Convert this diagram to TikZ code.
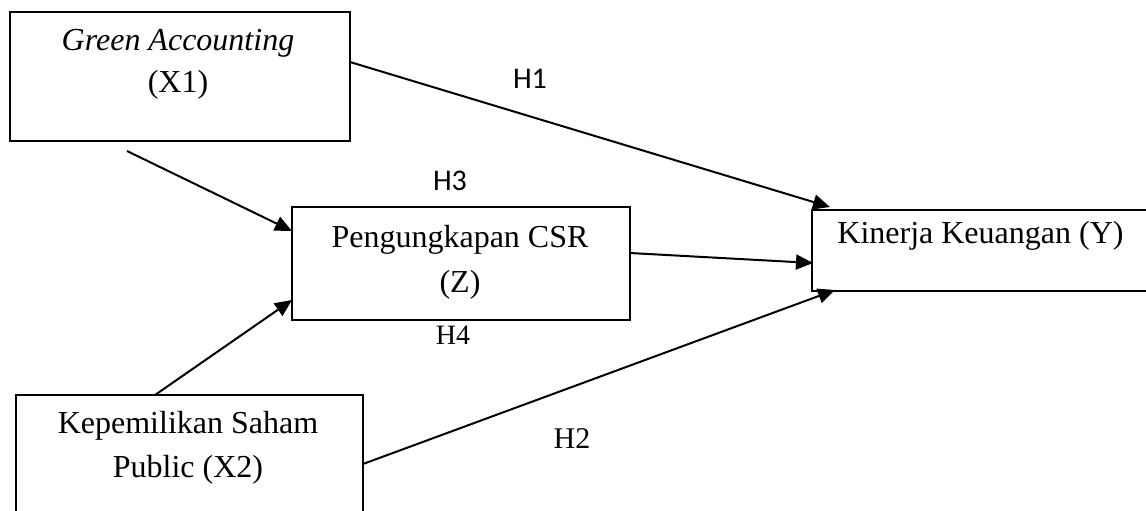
\documentclass[tikz,border=0pt]{standalone}
\usepackage{fontspec}
\setmainfont{Liberation Serif}
\newfontfamily\calibri{Carlito}
\usetikzlibrary{arrows.meta}
\begin{document}
\begin{tikzpicture}[x=0.5pt,y=-0.5pt,
  boxnode/.style={draw, line width=1pt, inner sep=0pt, rectangle},
  txt/.style={inner sep=0pt, anchor=base, font=\fontsize{16}{19}\selectfont},
  hlab/.style={inner sep=0pt, anchor=base, font=\calibri\fontsize{15}{18}\selectfont},
  conn/.style={line width=1pt, -{Triangle[length=8.5pt,width=7.5pt]}}]
\useasboundingbox (0,0) rectangle (1146,510);
\clip (0,0) rectangle (1146,510);
% boxes
\node[boxnode, minimum width=170pt, minimum height=64.5pt] (ga) at (180,76.5) {};
\node[boxnode, minimum width=169pt, minimum height=56.5pt] (csr) at (461,263.5) {};
\node[boxnode, minimum width=174pt, minimum height=40.5pt] (kk) at (986,250.5) {};
\node[boxnode, minimum width=173.5pt, minimum height=67.5pt] (ks) at (189.5,462.5) {};
% texts
\node[txt] (ga1) at (178,50) {\itshape Green Accounting};
\node[txt] (ga2) at (178,92) {(X1)};
\node[txt] (csr1) at (460,247) {Pengungkapan CSR};
\node[txt] (csr2) at (460,292) {(Z)};
\node[txt, anchor=base west] (kk1) at (837,243) {Kinerja Keuangan (Y)};
\node[txt] (ks1) at (188,433) {Kepemilikan Saham};
\node[txt] (ks2) at (188,477) {Public (X2)};
% hypothesis labels
\node[hlab] (h1) at (530,88) {H1};
\node[hlab] (h3) at (450,190) {H3};
\node[txt, font=\fontsize{14}{17}\selectfont] (h4) at (453,344) {H4};
\node[txt, font=\fontsize{15}{18}\selectfont] (h2) at (572,448) {H2};
% connector end points
\coordinate (gaE) at (350,62);
\coordinate (gaB) at (127,151);
\coordinate (csrW1) at (292,231);
\coordinate (csrW2) at (292,300);
\coordinate (csrE) at (630,253);
\coordinate (ksN) at (155,395);
\coordinate (ksE) at (363,464);
\coordinate (kkT) at (830,207);
\coordinate (kkM) at (813,263);
\coordinate (kkB) at (835,290);
% connectors
\draw[conn] (gaE) -- (kkT);
\draw[conn] (gaB) -- (csrW1);
\draw[conn] (ksN) -- (csrW2);
\draw[conn] (csrE) -- (kkM);
\draw[conn] (ksE) -- (kkB);
\end{tikzpicture}
\end{document}
